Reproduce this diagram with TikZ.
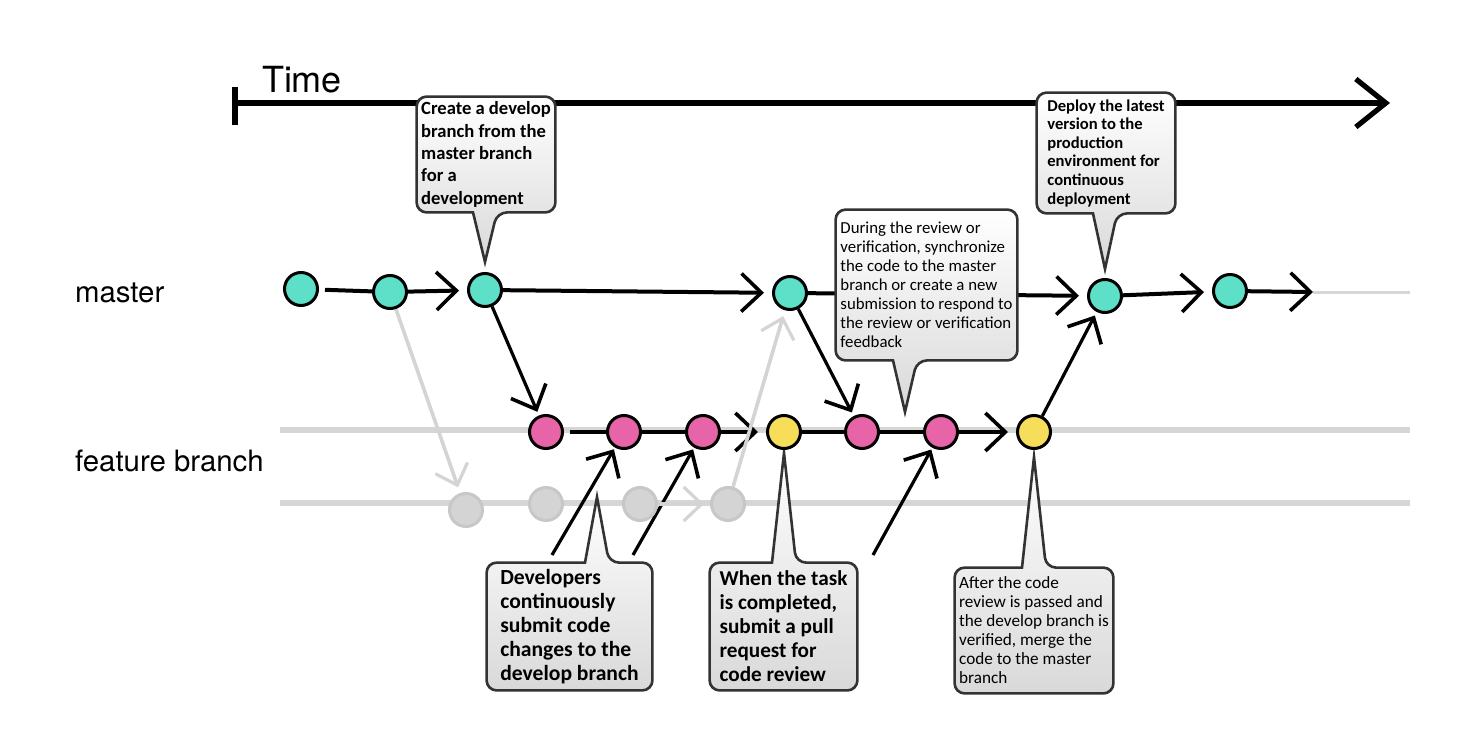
\documentclass[tikz,border=0pt]{standalone}
\usepackage{fontspec}
\setmainfont{Carlito}
\newfontfamily\headfont{TeX Gyre Heros}
\usepackage{tikz}
\usetikzlibrary{arrows.meta,positioning,shapes}
\definecolor{mastercolor}{RGB}{94,224,200}
\definecolor{featurecolor}{RGB}{232,100,168}
\definecolor{reviewcolor}{RGB}{246,222,90}
\pgfdeclarelayer{back}
\pgfdeclarelayer{bubbles}
\pgfsetlayers{back,bubbles,main}
% speech bubble round a note: node, tip, side of the tail, other side
\newcommand{\speech}[4]{%
  \draw[bubble] (#2) -- ([xshift=-6pt]#2 |- #1.#3)
    [rounded corners=5pt] -| (#1.#4 west) -| (#1.#3 east)
    -- ([xshift=6pt]#2 |- #1.#3) [sharp corners] -- cycle;}

\begin{document}
\begin{tikzpicture}[
    x=0.5pt, y=-0.5pt,
    commit/.style={circle, draw=black, line width=1.5pt, minimum size=16.5pt, inner sep=0pt},
    ghostcommit/.style={commit, draw=black!22, fill=black!17},
    lane/.style={draw=black!16, line width=2.6pt},
    link/.style={draw=black, line width=2pt},
    flow/.style={link, -{Straight Barb[length=10pt,width=19pt,line width=1.8pt]}, shorten >=4pt},
    ghost/.style={draw=black!17, line width=1.8pt, -{Straight Barb[length=9pt,width=17pt,line width=1.6pt]}, shorten >=3pt},
    note/.style={align=left, inner sep=1pt},
    bubble/.style={draw=black!80, line width=1.3pt, top color=white, bottom color=black!15},
    branchlabel/.style={font=\headfont\fontsize{14.7}{16}\selectfont, anchor=west}
]
    \useasboundingbox (0,0) rectangle (1474,739);

    % Labels
    \node[font=\headfont\fontsize{18}{20}\selectfont] (time) at (302,80) {Time};
    \node[branchlabel] (masterlabel) at (68,293) {master};
    \node[branchlabel] (featurelabel) at (68,461) {feature branch};

    % Commits
    \node[commit, fill=mastercolor] (m1) at (301,289) {};
    \node[commit, fill=mastercolor] (m2) at (390,292) {};
    \node[commit, fill=mastercolor] (m3) at (485,290) {};
    \node[commit, fill=mastercolor] (m4) at (790,293) {};
    \node[commit, fill=mastercolor] (m5) at (1105,296) {};
    \node[commit, fill=mastercolor] (m6) at (1230,291) {};
    \node[commit, fill=featurecolor] (f1) at (546,432) {};
    \node[commit, fill=featurecolor] (f2) at (624,432) {};
    \node[commit, fill=featurecolor] (f3) at (703,432) {};
    \node[commit, fill=reviewcolor] (y1) at (784,432) {};
    \node[commit, fill=featurecolor] (f4) at (862,432) {};
    \node[commit, fill=featurecolor] (f5) at (941,432) {};
    \node[commit, fill=reviewcolor] (y2) at (1034,432) {};
    \node[ghostcommit] (g1) at (466,510) {};
    \node[ghostcommit] (g2) at (546,504) {};
    \node[ghostcommit] (g3) at (640,504) {};
    \node[ghostcommit] (g4) at (728,504) {};

    % Notes
    \node[note, minimum width=69pt, minimum height=57.5pt, font=\bfseries\fontsize{9.3}{11.2}\selectfont] (c1) at (486,154.5)
        {Create a develop\\branch from the\\master branch\\for a\\development};
    \node[note, minimum width=69pt, minimum height=60pt, font=\bfseries\fontsize{8.3}{9.3}\selectfont] (c2) at (1106,153)
        {Deploy the latest\\version to the\\production\\environment for\\continuous\\deployment};
    \node[note, minimum width=90.5pt, minimum height=75pt, font=\fontsize{8.4}{9.5}\selectfont] (c3) at (926.5,285)
        {During the review or\\verification, synchronize\\the code to the master\\branch or create a new\\submission to respond to\\the review or verification\\feedback};
    \node[note, minimum width=82.5pt, minimum height=63.5pt, font=\bfseries\fontsize{10.8}{12}\selectfont] (c4) at (569.5,626.5)
        {Developers\\continuously\\submit code\\changes to the\\develop branch};
    \node[note, minimum width=73.5pt, minimum height=63.5pt, font=\bfseries\fontsize{10.6}{12}\selectfont] (c5) at (783.5,626.5)
        {When the task\\is completed,\\submit a pull\\request for\\code review};
    \node[note, minimum width=79pt, minimum height=62.5pt, font=\fontsize{8.6}{9.5}\selectfont] (c6) at (1034,630.5)
        {After the code\\review is passed and\\the develop branch is\\verified, merge the\\code to the master\\branch};

    % Tail tips and free ends
    \coordinate (t1) at ([yshift=5pt]m3.north);
    \coordinate (t2) at ([yshift=4.5pt]m5.north);
    \coordinate (t3) at (905,412);
    \coordinate (t4) at (597,497);
    \coordinate (t5) at ([yshift=-1.5pt]y1.south);
    \coordinate (t6) at ([yshift=-3.5pt]y2.south);
    \coordinate (t0) at (235,103);
    \coordinate (tend) at (1390,103);
    \coordinate (mend) at (1313,292);
    \coordinate (mfade) at (1410,292);
    \coordinate (in1) at (552,555);
    \coordinate (in2) at (633,555);
    \coordinate (in3) at (873,555);

    \begin{pgfonlayer}{back}
    % Lanes
    \draw[lane] (280,430) -- (1410,430);
    \draw[lane] (280,503) -- (1410,503);
    \draw[lane, line width=1.5pt] (mend) -- (mfade);

    % Time axis
    \draw[line width=2.6pt, -{Straight Barb[length=15pt,width=24pt,line width=2.6pt]}] (t0) -- (tend);
    \draw[line width=3pt] ([yshift=-11pt]t0) -- ([yshift=8pt]t0);

    % Master
    \draw[link, shorten <=3pt] (m1) -- (m2);
    \draw[flow] (m2) -- (m3);
    \draw[flow] (m3) -- (m4);
    \draw[flow] (m4) -- (m5);
    \draw[flow] (m5) -- (m6);
    \draw[flow, shorten >=0pt] (m6) -- (mend);

    % Feature branch
    \draw[link, shorten <=3pt] (f1) -- (f2);
    \draw[link] (f2) -- (f3);
    \draw[flow] (f3) -- (y1);
    \draw[link] (y1) -- (f4);
    \draw[link] (f4) -- (f5);
    \draw[flow] (f5) -- (y2);

    % Branch and merge
    \draw[flow, line width=1.6pt, shorten >=2pt] (m3) -- (f1);
    \draw[flow, line width=1.6pt, shorten >=2pt] (m4) -- (f4);
    \draw[flow, line width=1.6pt, shorten >=2pt] (y2) -- (m5);
    \draw[flow, line width=1.6pt, shorten >=1pt] (in1) -- (f2);
    \draw[flow, line width=1.6pt, shorten >=1pt] (in2) -- (f3);
    \draw[flow, line width=1.6pt, shorten >=1pt] (in3) -- (f5);

    % Faded history
    \draw[ghost] (m2) -- (g1);
    \draw[ghost] (g3) -- (g4);
    \draw[ghost] (g4) -- (m4);
    \end{pgfonlayer}

    \begin{pgfonlayer}{bubbles}
    \speech{c1}{t1}{south}{north}
    \speech{c2}{t2}{south}{north}
    \speech{c3}{t3}{south}{north}
    \speech{c4}{t4}{north}{south}
    \speech{c5}{t5}{north}{south}
    \speech{c6}{t6}{north}{south}
    \end{pgfonlayer}
\end{tikzpicture}
\end{document}
